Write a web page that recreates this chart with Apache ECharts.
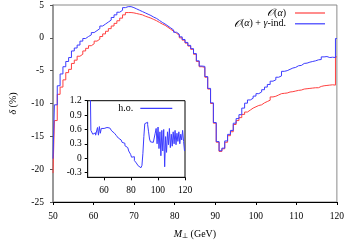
<!DOCTYPE html>
<html><head><meta charset="utf-8">
<script src="https://cdn.jsdelivr.net/npm/echarts@6/dist/echarts.min.js"></script>
<style>html,body{margin:0;padding:0;background:#fff}#c{width:347px;height:245px}</style>
</head><body><div id="c"></div>
<script>
// Bin positions (GeV): 101 points from 50 to 120, spacing 0.7 (histogram steps)
const binStart = 50, binStep = 0.7, binCount = 101;
const massPoints = [];
for (let k = 0; k < binCount; k++) massPoints.push(+(binStart + binStep * k).toFixed(2));

// O(alpha) correction (%) - red
const redValues = [
 -20.6,-12.6,-8.6,-7.5,-6.4,-5.3,-4.8,-3.9,-3.4,-2.8,
 -2.5,-2.0,-1.6,-1.2,-0.9,-0.5,-0.2,0.2,0.6,1.0,
 1.4,1.8,2.2,2.6,3.0,3.5,3.85,3.85,3.8,3.7,
 3.6,3.5,3.3,3.15,3.0,2.8,2.6,2.35,2.1,1.9,
 1.6,1.3,1.0,0.7,0.4,0.0,-0.35,-0.8,-1.25,-1.75,
 -2.5,-3.6,-4.4,-4.5,-6.0,-7.8,-10.0,-13.0,-15.9,-17.3,
 -16.9,-15.9,-14.9,-14.3,-13.2,-12.6,-12.15,-11.66,-11.3,-11.0,
 -10.7,-10.5,-10.3,-10.2,-9.9,-9.7,-9.5,-9.0,-8.9,-8.7,
 -8.5,-8.45,-8.4,-8.25,-8.2,-8.1,-8.0,-7.95,-7.8,-7.75,
 -7.7,-7.65,-7.6,-7.6,-7.4,-7.3,-7.25,-7.2,-7.15,-7.2,
 -2.9
];
// O(alpha) + gamma-induced (%) - blue
const blueValues = [
 -18.4,-10.2,-7.3,-5.5,-4.4,-3.6,-3.0,-2.0,-1.55,-1.1,
 -0.5,-0.1,0.2,0.45,0.8,1.1,1.4,1.8,2.1,2.4,
 2.7,3.1,3.5,3.9,4.2,4.6,4.75,4.75,4.6,4.4,
 4.2,4.0,3.8,3.6,3.4,3.15,2.95,2.65,2.35,2.1,
 1.8,1.5,1.2,0.85,0.55,0.15,-0.25,-0.7,-1.15,-1.65,
 -2.4,-3.5,-4.3,-4.35,-5.9,-7.7,-9.9,-12.9,-15.8,-17.2,
 -16.8,-15.7,-14.7,-14.1,-13.0,-12.3,-11.7,-10.7,-9.95,-9.46,
 -9.2,-8.87,-8.5,-8.24,-7.9,-7.5,-7.1,-6.6,-6.4,-6.0,
 -5.8,-5.1,-5.0,-4.8,-4.6,-4.5,-4.25,-4.2,-3.9,-3.85,
 -3.7,-3.6,-3.5,-3.35,-3.3,-2.9,-2.85,-3.0,-2.95,-3.0,
 -0.1
];
// inset: higher-order (h.o.) effect
const hoValues = [
 1.3,0.58,0.56,0.50,0.47,0.53,0.48,0.50,0.64,0.48,
 0.66,0.52,0.62,0.58,0.62,0.63,0.62,0.64,0.63,0.65,
 0.63,0.60,0.62,0.57,0.53,0.52,0.48,0.47,0.45,0.44,
 0.42,0.43,0.38,0.36,0.33,0.30,0.31,0.26,0.24,0.22,
 0.18,0.15,0.12,0.08,0.02,-0.02,0.03,-0.05,-0.08,-0.10,
 -0.12,-0.16,-0.18,-0.20,-0.23,-0.15,0.10,0.45,0.72,0.76,
 0.75,0.70,0.55,0.40,0.34,0.36,0.33,0.35,0.34,0.52,
 0.62,0.30,0.65,0.20,0.55,0.05,0.58,0.15,0.60,-0.18,
 0.45,0.12,0.55,0.28,0.62,0.22,0.50,0.25,0.55,0.30,
 0.58,0.28,0.52,0.35,0.55,0.30,0.50,0.38,0.58,0.35,
 0.15
];
const mainXTicks = [50,60,70,80,90,100,110,120];
const mainYTicks = [-25,-20,-15,-10,-5,0,5];
const insetXTicks = [60,80,100,120];
const insetYTicks = [-0.3,0,0.3,0.6,0.9,1.2];

const nameRed = 'red', nameBlue = 'blue', nameHo = 'h.o.';
const FONT = 'Liberation Serif';
const rich = {
  i: {fontStyle: 'italic', fontFamily: FONT, fontSize: 10, color: '#000'},
  c: {fontStyle: 'italic', fontFamily: FONT, fontSize: 10.5, color: '#000'},
  n: {fontFamily: FONT, fontSize: 10, color: '#000'},
  s: {fontFamily: FONT, fontSize: 7, color: '#000', padding: [5, 0, 0, 0]}
};
const pair = (ys) => massPoints.map((x, k) => [x, ys[k]]);
const chart = echarts.init(document.getElementById('c'), null, {renderer: 'canvas'});
const labelStyle = {fontFamily: FONT, fontSize: 9.5, color: '#000'};
chart.setOption({
  animation: false,
  backgroundColor: '#fff',
  grid: [
    {left: 47, right: 9, top: 4.7, bottom: 35.7, show: true, borderColor: '#8a8a8a', borderWidth: 1, z: 0},
    {left: 87.7, top: 100.7, width: 97.3, height: 76.6, show: true, backgroundColor: '#fff', borderColor: '#000', borderWidth: 1, z: 3}
  ],
  legend: [
    {data: [nameRed], right: 22, top: 7.5, padding: 0, align: 'right', icon: 'rect', itemWidth: 30, itemHeight: 1.2,
     formatter: () => '{c|𝒪}{n|(}{i|α}{n|)}', textStyle: {rich, padding: [0, 4, 0, 0]}},
    {data: [nameBlue], right: 22, top: 18.3, padding: 0, align: 'right', icon: 'rect', itemWidth: 30, itemHeight: 1.2,
     formatter: () => '{c|𝒪}{n|(}{i|α}{n|) + }{i|γ}{n|-ind.}', textStyle: {rich, padding: [0, 4, 0, 0]}},
    {data: [nameHo], right: 174.7, top: 103.3, padding: 0, align: 'right', icon: 'rect', itemWidth: 32, itemHeight: 1.2,
     formatter: () => '{n|h.o.}', textStyle: {rich, padding: [0, 2, 0, 0]}}
  ],
  xAxis: [
    {type: 'value', gridIndex: 0, min: 50, max: 120, interval: 10,
     name: '{i|M}{s|⊥}{n| (GeV)}', nameLocation: 'middle', nameGap: 26, nameTextStyle: {rich},
     axisLine: {show: true, onZero: false, lineStyle: {color: '#000', width: 1}},
     axisTick: {show: true, inside: false, length: 3, lineStyle: {color: '#000'}},
     axisLabel: {...labelStyle, margin: 9, customValues: mainXTicks},
     splitLine: {show: false}},
    {type: 'value', gridIndex: 1, min: 48, max: 120,
     axisLine: {show: true, onZero: false, lineStyle: {color: '#000', width: 1}},
     axisTick: {show: true, length: 3, customValues: insetXTicks, lineStyle: {color: '#000'}},
     axisLabel: {...labelStyle, margin: 8, customValues: insetXTicks},
     splitLine: {show: false}}
  ],
  yAxis: [
    {type: 'value', gridIndex: 0, min: -25, max: 5, interval: 5,
     name: '{i|δ}{n| (%)}', nameLocation: 'middle', nameGap: 35, nameRotate: 90, nameTextStyle: {rich},
     axisLine: {show: true, onZero: false, lineStyle: {color: '#8a8a8a', width: 1.5}},
     axisTick: {show: true, length: 3, lineStyle: {color: '#555'}},
     axisLabel: {...labelStyle, margin: 9, customValues: mainYTicks},
     splitLine: {show: false}},
    {type: 'value', gridIndex: 1, min: -0.4, max: 1.2,
     axisLine: {show: true, onZero: false, lineStyle: {color: '#000', width: 1}},
     axisTick: {show: true, length: 3, customValues: insetYTicks, lineStyle: {color: '#000'}},
     axisLabel: {...labelStyle, margin: 6, customValues: insetYTicks,
       formatter: v => (Math.abs(v) < 1e-9 ? '0' : (+v).toFixed(1))},
     splitLine: {show: false}}
  ],
  series: [
    {name: nameRed, type: 'line', xAxisIndex: 0, yAxisIndex: 0, step: 'middle', data: pair(redValues),
     showSymbol: false, symbol: 'none', clip: true, color: '#ff4040', lineStyle: {color: '#ff4040', width: 1}, z: 2},
    {name: nameBlue, type: 'line', xAxisIndex: 0, yAxisIndex: 0, step: 'middle', data: pair(blueValues),
     showSymbol: false, symbol: 'none', clip: true, color: '#3c3cff', lineStyle: {color: '#3c3cff', width: 1}, z: 2},
    {name: nameHo, type: 'line', xAxisIndex: 1, yAxisIndex: 1, step: 'middle', data: pair(hoValues),
     showSymbol: false, symbol: 'none', clip: true, color: '#3c3cff', lineStyle: {color: '#3c3cff', width: 1}, z: 4}
  ]
});
</script></body></html>
